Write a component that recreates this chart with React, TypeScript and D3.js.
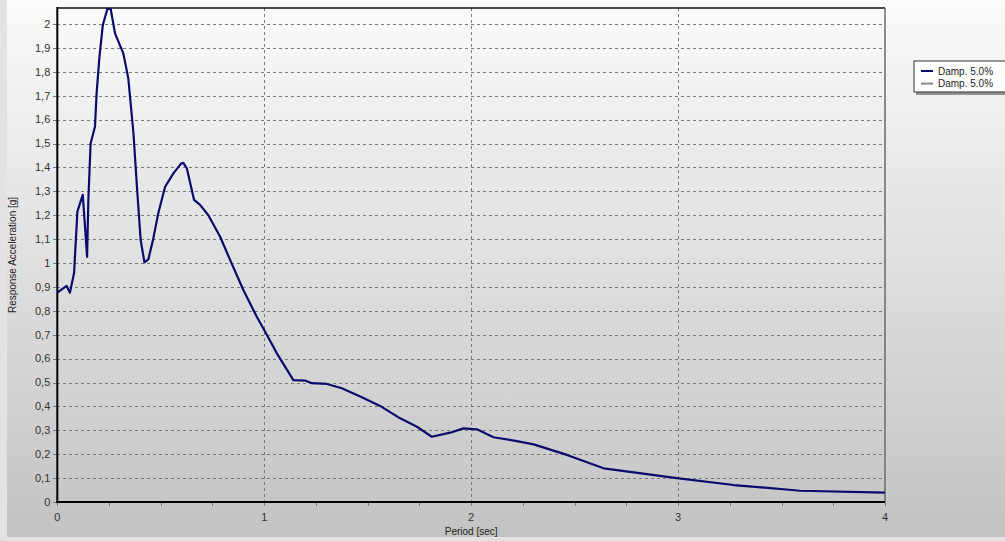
import { useEffect, useRef } from 'react';
import * as d3 from 'd3';

// Response spectrum, damping 5 %
const PERIODS = [
  0, 0.045, 0.061, 0.081, 0.097, 0.123, 0.134, 0.144, 0.15, 0.161, 0.182, 0.19, 0.203,
  0.22, 0.242, 0.258, 0.279, 0.319, 0.343, 0.368, 0.387, 0.403, 0.421, 0.44, 0.464,
  0.488, 0.521, 0.561, 0.598, 0.609, 0.626, 0.661, 0.69, 0.73, 0.787, 0.835, 0.899,
  0.964, 1.0, 1.061, 1.141, 1.198, 1.23, 1.303, 1.375, 1.464, 1.56, 1.657, 1.738,
  1.81, 1.899, 1.963, 2.028, 2.108, 2.221, 2.302, 2.463, 2.64, 2.85, 3.003, 3.269,
  3.59, 4.0,
];
const ACCEL = [
  0.876, 0.904, 0.876, 0.958, 1.215, 1.285, 1.152, 1.026, 1.264, 1.5, 1.57, 1.71, 1.856,
  1.996, 2.063, 2.063, 1.961, 1.877, 1.773, 1.543, 1.292, 1.096, 1.003, 1.015, 1.103,
  1.208, 1.319, 1.375, 1.416, 1.419, 1.396, 1.264, 1.243, 1.2, 1.11, 1.013, 0.887,
  0.775, 0.72, 0.622, 0.51, 0.508, 0.497, 0.494, 0.476, 0.441, 0.402, 0.35, 0.315,
  0.273, 0.29, 0.308, 0.304, 0.271, 0.255, 0.241, 0.197, 0.141, 0.117, 0.099, 0.071,
  0.047, 0.039,
];
const X_TICKS = [0, 1, 2, 3, 4];
const Y_TICKS = d3.range(0, 21).map(i => i / 10);
const LEGEND = [
  { label: 'Damp. 5.0%', color: '#0b0b6b' },
  { label: 'Damp. 5.0%', color: '#8a8a8a' },
];

const W = 1005;
const H = 541;
const FONT = '"Liberation Sans", Arial, sans-serif';

function fmtY(v: number) {
  if (Math.abs(v - Math.round(v)) < 1e-9) return String(Math.round(v));
  return d3.format('.1f')(v).replace('.', ',');
}

export default function App() {
  const svgRef = useRef<SVGSVGElement>(null);

  useEffect(() => {
    const svg = d3.select(svgRef.current);
    svg.selectAll('*').remove();

    const left = 57.3, right = 885, top = 8, bottom = 502;
    const x = d3.scaleLinear().domain([0, 4]).range([left, right]);
    const y = d3.scaleLinear().domain([0, 2.067]).range([bottom, top]);

    const defs = svg.append('defs');
    const grad = defs.append('linearGradient')
      .attr('id', 'bg').attr('gradientUnits', 'userSpaceOnUse')
      .attr('x1', 0).attr('y1', 0).attr('x2', 0).attr('y2', 537);
    grad.append('stop').attr('offset', 0).attr('stop-color', '#fbfbfb');
    grad.append('stop').attr('offset', 1).attr('stop-color', '#c3c3c3');
    defs.append('clipPath').attr('id', 'plotClip')
      .append('rect').attr('x', left).attr('y', top)
      .attr('width', right - left).attr('height', bottom - top);

    // background
    svg.append('rect').attr('width', W).attr('height', H).attr('fill', '#e3e3e3');
    svg.append('rect').attr('x', 7).attr('y', 0).attr('width', W - 7).attr('height', 537)
      .attr('fill', 'url(#bg)');

    // grid
    const grid = svg.append('g').attr('stroke', '#7a7a7a').attr('stroke-width', 1)
      .attr('stroke-dasharray', '3,3').attr('shape-rendering', 'crispEdges');
    grid.selectAll('line.h')
      .data(Y_TICKS.filter(v => v > 0))
      .join('line').attr('class', 'h')
      .attr('x1', left).attr('x2', right)
      .attr('y1', d => Math.round(y(d)) + 0.5).attr('y2', d => Math.round(y(d)) + 0.5);
    grid.selectAll('line.v')
      .data(X_TICKS.filter(v => v > 0 && v < 4))
      .join('line').attr('class', 'v')
      .attr('y1', top).attr('y2', bottom)
      .attr('x1', d => Math.round(x(d)) + 0.5).attr('x2', d => Math.round(x(d)) + 0.5);

    // frame
    svg.append('line').attr('x1', left).attr('x2', right).attr('y1', top).attr('y2', top)
      .attr('stroke', '#111').attr('stroke-width', 1.5);
    svg.append('line').attr('x1', right).attr('x2', right).attr('y1', top).attr('y2', bottom)
      .attr('stroke', '#6a6a6a').attr('stroke-width', 1.5);

    // ticks
    const ticks = svg.append('g').attr('stroke', '#777').attr('stroke-width', 1)
      .attr('shape-rendering', 'crispEdges');
    ticks.selectAll('line.yt').data(Y_TICKS).join('line').attr('class', 'yt')
      .attr('x1', left - 4).attr('x2', left)
      .attr('y1', d => Math.round(y(d)) + 0.5).attr('y2', d => Math.round(y(d)) + 0.5);
    ticks.selectAll('line.xt').data(d3.range(0, 17).map(i => i / 4)).join('line').attr('class', 'xt')
      .attr('y1', bottom).attr('y2', bottom + 4)
      .attr('x1', d => Math.round(x(d)) + 0.5).attr('x2', d => Math.round(x(d)) + 0.5);

    // axes lines
    svg.append('line').attr('x1', left).attr('x2', left).attr('y1', top - 1).attr('y2', bottom + 1)
      .attr('stroke', '#000').attr('stroke-width', 2);
    svg.append('line').attr('x1', left - 1).attr('x2', right).attr('y1', bottom).attr('y2', bottom)
      .attr('stroke', '#000').attr('stroke-width', 2);

    // tick labels
    svg.append('g').selectAll('text').data(Y_TICKS).join('text')
      .attr('x', left - 7).attr('y', d => y(d)).attr('dy', '0.35em')
      .attr('text-anchor', 'end').attr('font-family', FONT).attr('font-size', 11)
      .attr('fill', '#333').text(d => fmtY(d));
    svg.append('g').selectAll('text').data(X_TICKS).join('text')
      .attr('x', d => x(d)).attr('y', bottom + 15).attr('dy', '0.35em')
      .attr('text-anchor', 'middle').attr('font-family', FONT).attr('font-size', 11)
      .attr('fill', '#333').text(d => String(d));

    // axis titles
    svg.append('text').attr('x', (left + right) / 2).attr('y', 531).attr('dy', '0.35em')
      .attr('text-anchor', 'middle').attr('font-family', FONT).attr('font-size', 10)
      .attr('fill', '#222').text('Period [sec]');
    svg.append('text').attr('transform', `translate(12,${(top + bottom) / 2}) rotate(-90)`)
      .attr('dy', '0.35em').attr('text-anchor', 'middle').attr('font-family', FONT)
      .attr('font-size', 10).attr('fill', '#222').text('Response Acceleration [g]');

    // curve
    const pts = PERIODS.map((p, i) => [p, ACCEL[i]] as [number, number]);
    const line = d3.line<[number, number]>().x(d => x(d[0])).y(d => y(d[1]));
    svg.append('path').datum(pts).attr('clip-path', 'url(#plotClip)')
      .attr('d', line).attr('fill', 'none').attr('stroke', LEGEND[0].color)
      .attr('stroke-width', 2.2).attr('stroke-linejoin', 'round');

    // legend
    const lg = svg.append('g').attr('transform', 'translate(914,61)');
    lg.append('rect').attr('x', 2).attr('y', 2).attr('width', 94).attr('height', 32)
      .attr('fill', '#555').attr('opacity', 0.6);
    lg.append('rect').attr('x', 0).attr('y', 0).attr('width', 94).attr('height', 31)
      .attr('fill', '#fff').attr('stroke', '#333').attr('stroke-width', 1);
    LEGEND.forEach((d, i) => {
      const yy = 10 + i * 12.6;
      lg.append('line').attr('x1', 7).attr('x2', 19).attr('y1', yy).attr('y2', yy)
        .attr('stroke', d.color).attr('stroke-width', 2);
      lg.append('text').attr('x', 24).attr('y', yy).attr('dy', '0.35em')
        .attr('font-family', FONT).attr('font-size', 10).attr('fill', '#222').text(d.label);
    });
  }, []);

  return (
    <div style={{ position: 'absolute', left: 0, top: 0 }}>
      <svg ref={svgRef} width={W} height={H} style={{ display: 'block' }} />
    </div>
  );
}
